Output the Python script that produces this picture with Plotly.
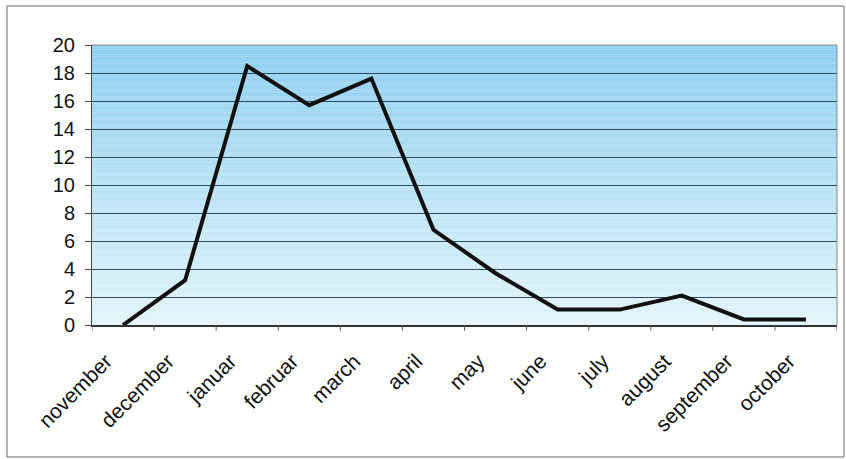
import plotly.graph_objects as go

months = ["november", "december", "januar", "februar", "march", "april",
          "may", "june", "july", "august", "september", "october"]
values = [0.0, 3.2, 18.5, 15.7, 17.6, 6.8, 3.7, 1.1, 1.1, 2.1, 0.4, 0.4]
y_ticks = list(range(0, 21, 2))

W, H = 846, 459
ML, MR, MT, MB = 92, 9, 45, 134

fig = go.Figure()
fig.add_trace(go.Scatter(
    x=list(range(len(months))), y=values, mode="lines",
    line=dict(color="#111111", width=4), hoverinfo="skip", showlegend=False,
))

# vertical gradient behind the plot area
top_rgb = (142, 206, 240)
bot_rgb = (226, 245, 250)
n = 120
shapes = []
for i in range(n):
    t = i / (n - 1)
    r, g, b = (round(top_rgb[k] + (bot_rgb[k] - top_rgb[k]) * t) for k in range(3))
    shapes.append(dict(
        type="rect", xref="x domain", yref="y domain",
        x0=0, x1=1, y0=1 - (i + 1) / n, y1=1 - i / n,
        fillcolor=f"rgb({r},{g},{b})", line=dict(width=0), layer="below",
    ))

# frame around the whole chart
pw, ph = W - ML - MR, H - MT - MB
shapes.append(dict(
    type="rect", xref="paper", yref="paper",
    x0=(7 - ML) / pw, x1=(844 - ML) / pw,
    y0=(H - MB - 457) / ph, y1=(H - MB - 6) / ph,
    line=dict(color="#6a6a6a", width=1), fillcolor="rgba(0,0,0,0)", layer="below",
))

fig.update_layout(
    width=W, height=H,
    margin=dict(l=ML, r=MR, t=MT, b=MB),
    paper_bgcolor="white", plot_bgcolor="rgba(0,0,0,0)",
    shapes=shapes,
    font=dict(family="Liberation Sans, Arial, sans-serif", color="#111111", size=20),
    xaxis=dict(
        tickmode="array", tickvals=list(range(len(months))), ticktext=months,
        range=[-0.5, len(months) - 0.5], tickangle=-45,
        showgrid=False, zeroline=False,
        showline=True, linecolor="#333333", linewidth=1.5, mirror=False,
        ticks="", tickfont=dict(size=21),
        ticklabelstandoff=14, ticklabelshift=-17,
    ),
    yaxis=dict(
        range=[0, 20], tickmode="array", tickvals=y_ticks,
        showgrid=True, gridcolor="#35505e", gridwidth=1,
        zeroline=False, showline=True, linecolor="#444444", linewidth=1,
        ticks="outside", ticklen=6, tickcolor="#444444",
        tickfont=dict(size=20), ticklabelstandoff=6,
    ),
)

# category boundary ticks below the x axis
for k in range(len(months) + 1):
    fig.add_shape(type="line", xref="x", yref="y domain",
                  x0=k - 0.5, x1=k - 0.5, y0=0, y1=-0.02,
                  line=dict(color="#555555", width=1))

# right and top plot border
fig.add_shape(type="line", xref="x domain", yref="y domain", x0=1, x1=1, y0=0, y1=1,
              line=dict(color="#8a8a8a", width=1))
fig.add_shape(type="line", xref="x domain", yref="y domain", x0=0, x1=1, y0=1, y1=1,
              line=dict(color="#8a8a8a", width=1))

fig.write_html("out.html")
